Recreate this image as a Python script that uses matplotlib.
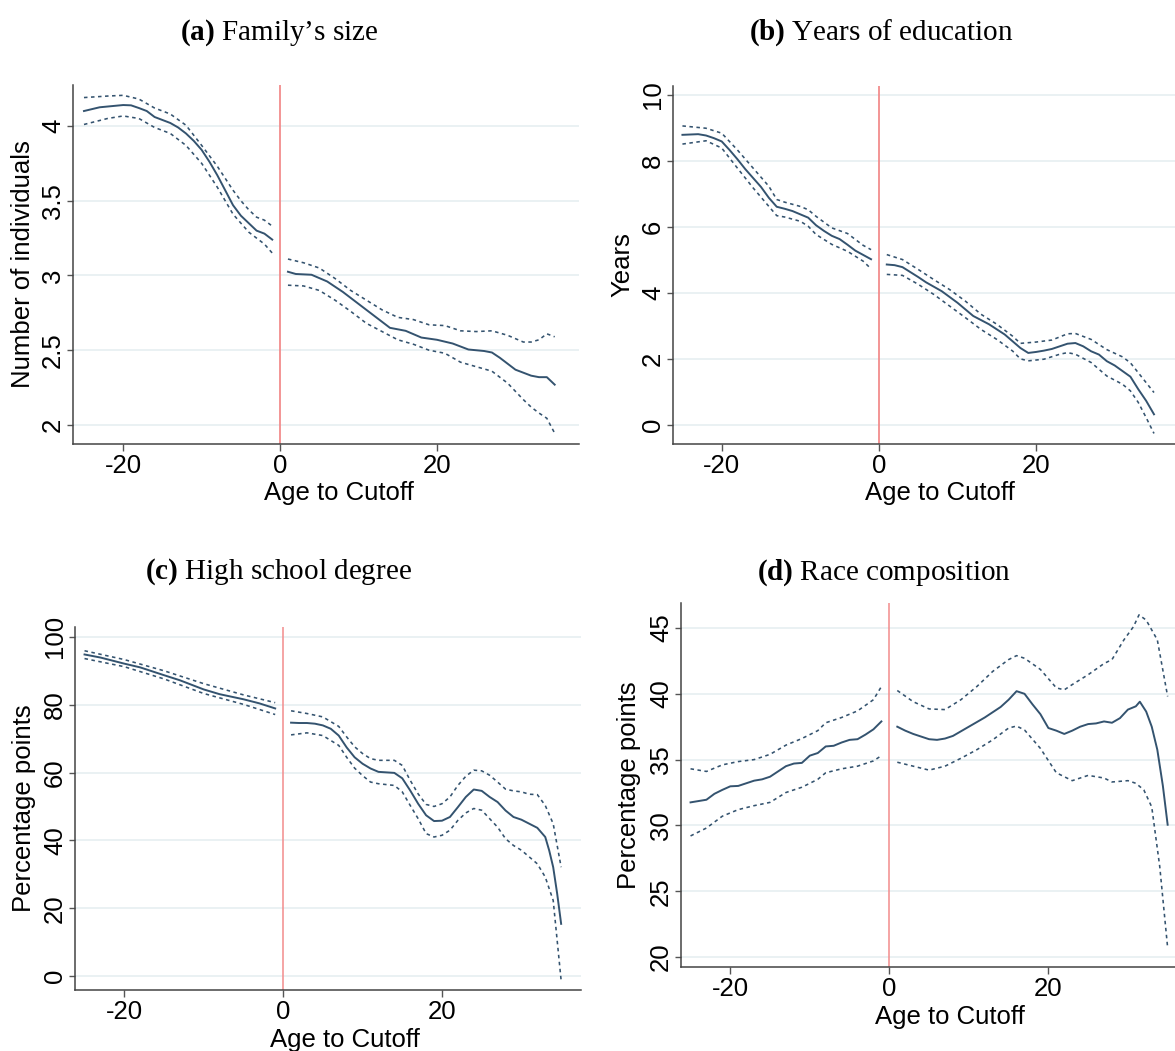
import matplotlib
matplotlib.use("Agg")
import matplotlib.pyplot as plt

# (a) family size
a_lx = [-25, -23, -20, -19, -18, -17, -16, -15, -14, -13, -12, -11, -10, -9, -8, -7, -6, -5, -4, -3, -2, -1]
a_lmid = [4.10, 4.125, 4.14, 4.138, 4.12, 4.10, 4.06, 4.04, 4.02, 3.99, 3.95, 3.90, 3.84, 3.76, 3.67, 3.57,
          3.47, 3.40, 3.35, 3.30, 3.28, 3.24]
a_lx_ci = [-25, -22, -20, -18, -16, -14, -12, -10, -8, -6, -5, -4, -3, -2, -1]
a_lhi = [4.19, 4.20, 4.205, 4.18, 4.12, 4.08, 4.005, 3.87, 3.73, 3.57, 3.50, 3.44, 3.39, 3.37, 3.33]
a_llo = [4.01, 4.05, 4.067, 4.05, 3.99, 3.95, 3.87, 3.75, 3.59, 3.41, 3.35, 3.29, 3.25, 3.21, 3.15]
a_rx = [1, 2, 4, 6, 8, 10, 12, 14, 16, 18, 20, 22, 24, 26, 27, 28, 30, 32, 33, 34, 35]
a_rmid = [3.025, 3.01, 3.005, 2.96, 2.89, 2.81, 2.73, 2.65, 2.63, 2.585, 2.57, 2.545, 2.505, 2.495, 2.485,
          2.45, 2.37, 2.33, 2.32, 2.32, 2.27]
a_rx_ci = [1, 3, 5, 7, 9, 11, 13, 15, 17, 19, 21, 23, 25, 27, 29, 31, 32, 33, 34, 35]
a_rhi = [3.11, 3.085, 3.05, 2.98, 2.90, 2.835, 2.77, 2.72, 2.705, 2.67, 2.665, 2.63, 2.625, 2.63, 2.60,
         2.555, 2.555, 2.57, 2.61, 2.59]
a_rlo = [2.935, 2.93, 2.90, 2.835, 2.76, 2.68, 2.625, 2.57, 2.54, 2.50, 2.48, 2.42, 2.39, 2.36, 2.28,
         2.17, 2.12, 2.08, 2.045, 1.945]

# (b) years of education
b_lx = [-25, -23, -22, -21, -20, -19, -18, -17, -16, -15, -14, -13, -12, -11, -10, -9, -8, -7, -6, -5, -4, -3, -2, -1]
b_lmid = [8.79, 8.81, 8.77, 8.69, 8.59, 8.33, 8.05, 7.75, 7.48, 7.21, 6.88, 6.61, 6.55, 6.48, 6.38, 6.28,
          6.05, 5.88, 5.73, 5.63, 5.46, 5.28, 5.15, 5.02]
b_lx_ci = [-25, -22, -20, -18, -16, -14, -13, -12, -10, -9, -8, -6, -4, -3, -2, -1]
b_lhi = [9.06, 8.99, 8.84, 8.33, 7.78, 7.23, 6.83, 6.75, 6.62, 6.52, 6.32, 5.97, 5.80, 5.62, 5.44, 5.31]
b_llo = [8.51, 8.61, 8.39, 7.78, 7.18, 6.62, 6.34, 6.30, 6.17, 6.02, 5.77, 5.47, 5.26, 5.11, 4.96, 4.73]
b_rx = [1, 2, 3, 4, 5, 6, 8, 10, 12, 14, 16, 18, 19, 20, 21, 22, 24, 25, 26, 27, 28, 29, 30, 31, 32, 33, 34, 35]
b_rmid = [4.86, 4.84, 4.78, 4.63, 4.48, 4.32, 4.05, 3.70, 3.30, 3.05, 2.74, 2.33, 2.18, 2.21, 2.25, 2.30,
          2.46, 2.48, 2.38, 2.23, 2.13, 1.93, 1.80, 1.63, 1.46, 1.08, 0.73, 0.32]
b_rx_hi = [1, 3, 5, 7, 9, 11, 13, 15, 17, 18, 20, 22, 24, 25, 27, 29, 31, 32, 33, 34, 35]
b_rhi = [5.16, 5.01, 4.71, 4.40, 4.10, 3.75, 3.35, 3.05, 2.69, 2.47, 2.51, 2.57, 2.76, 2.77, 2.59, 2.28,
         2.06, 1.88, 1.58, 1.28, 0.98]
b_rx_lo = [1, 3, 5, 7, 9, 11, 13, 15, 17, 18, 19, 21, 23, 24, 25, 27, 29, 31, 32, 33, 34, 35]
b_rlo = [4.56, 4.53, 4.26, 3.95, 3.60, 3.25, 2.89, 2.59, 2.24, 2.00, 1.94, 1.99, 2.14, 2.19, 2.14, 1.89,
         1.48, 1.23, 1.03, 0.68, 0.22, -0.26]

# (c) high school degree
c_lx = [-25, -23, -20, -18, -15, -13, -10, -8, -5, -3, -1]
c_lmid = [94.8, 93.9, 92.1, 91.0, 88.7, 87.2, 84.5, 83.1, 81.6, 80.4, 78.9]
c_lx_ci = [-25, -20, -15, -10, -5, -1]
c_lhi = [95.9, 93.3, 90.0, 86.2, 82.9, 80.6]
c_llo = [93.6, 91.2, 87.6, 83.3, 80.1, 77.1]
c_rx = [1, 2, 3, 4, 5, 6, 7, 8, 9, 10, 11, 12, 14, 15, 16, 17, 18, 19, 20, 21, 22, 23, 24, 25, 26, 27, 28,
        29, 30, 31, 32, 33, 33.5, 34, 34.5, 35]
c_rmid = [74.7, 74.6, 74.6, 74.4, 73.9, 72.9, 70.9, 67.4, 64.5, 62.6, 61.2, 60.2, 59.9, 58.3, 54.7, 50.8,
          47.4, 45.7, 45.8, 46.9, 49.8, 52.8, 55.0, 54.6, 52.8, 51.3, 48.8, 46.9, 46.1, 44.9, 43.7, 41.0,
          37.0, 32.1, 24.3, 15.4]
c_rx_ci = [1, 3, 5, 7, 8, 9, 10, 11, 12, 14, 15, 16, 17, 18, 19, 20, 21, 22, 23, 24, 25, 26, 27, 28, 29,
           30, 31, 32, 33, 34, 35]
c_rhi = [78.2, 77.4, 76.4, 73.6, 70.5, 67.6, 65.6, 64.1, 63.6, 63.6, 62.1, 57.7, 53.7, 50.6, 50.0, 50.8,
         52.8, 56.2, 58.9, 60.7, 60.5, 59.2, 57.2, 55.1, 54.6, 54.3, 53.6, 53.5, 50.3, 44.9, 32.1]
c_rlo = [71.1, 71.7, 70.9, 68.0, 64.5, 61.3, 59.1, 57.2, 56.7, 56.2, 54.3, 50.3, 46.4, 42.0, 41.0, 41.5,
         43.0, 45.9, 48.1, 49.4, 48.9, 46.4, 43.9, 40.5, 38.5, 37.1, 35.1, 33.1, 29.2, 22.3, -1.3]

# (d) race composition
d_lx = [-25, -23, -22, -21, -20, -19, -18, -17, -16, -15, -14, -13, -12, -11, -10, -9, -8, -7, -6, -5, -4, -3, -2, -1]
d_lmid = [31.75, 31.95, 32.4, 32.7, 32.97, 33.0, 33.2, 33.4, 33.5, 33.7, 34.1, 34.5, 34.7, 34.75, 35.3,
          35.5, 36.0, 36.05, 36.3, 36.5, 36.55, 36.9, 37.3, 37.9]
d_lx_ci = [-25, -23, -21, -19, -17, -15, -13, -11, -9, -8, -6, -4, -2, -1]
d_lhi = [34.3, 34.1, 34.6, 34.85, 35.0, 35.4, 36.1, 36.6, 37.2, 37.8, 38.2, 38.7, 39.55, 40.55]
d_llo = [29.2, 29.8, 30.7, 31.2, 31.5, 31.75, 32.5, 32.9, 33.5, 34.0, 34.3, 34.5, 34.9, 35.3]
d_rx = [1, 2, 3, 4, 5, 6, 7, 8, 9, 10, 12, 14, 15, 16, 17, 18, 19, 20, 21, 22, 23, 24, 25, 26, 27, 28,
        29, 30, 31, 31.5, 32.3, 33, 33.7, 34.4, 35]
d_rmid = [37.5, 37.2, 36.95, 36.75, 36.55, 36.5, 36.6, 36.8, 37.15, 37.5, 38.2, 39.0, 39.55, 40.2, 40.0,
          39.2, 38.45, 37.4, 37.2, 36.95, 37.2, 37.5, 37.7, 37.75, 37.9, 37.8, 38.15, 38.8, 39.05, 39.4,
          38.65, 37.5, 35.75, 33.0, 30.05]
d_rx_hi = [1, 3, 5, 7, 9, 11, 13, 15, 16, 17, 19, 21, 22, 23, 25, 27, 28, 29.5, 30.7, 31.4, 32.3, 33.7, 35]
d_rhi = [40.25, 39.4, 38.85, 38.8, 39.55, 40.55, 41.7, 42.6, 42.9, 42.7, 41.85, 40.45, 40.3, 40.7, 41.45,
         42.3, 42.6, 44.1, 45.1, 46.0, 45.6, 44.1, 39.8]
d_rx_lo = [1, 3, 5, 7, 9, 11, 13, 15, 16, 17, 19, 21, 23, 25, 27, 28, 30, 31, 32, 33, 34, 35]
d_rlo = [34.8, 34.5, 34.2, 34.5, 35.1, 35.75, 36.5, 37.4, 37.55, 37.25, 35.85, 34.0, 33.4, 33.8, 33.6,
         33.3, 33.4, 33.2, 32.7, 31.4, 26.9, 20.7]

NAVY = "#34536f"
RED = "#f28c8c"
GRID = "#e4eef0"
SPINE = "#444444"
FS = 18.5
W, H = 1175, 1051

plt.rcParams["font.family"] = ["Liberation Sans", "DejaVu Sans"]
plt.rcParams["mathtext.fontset"] = "custom"
plt.rcParams["mathtext.rm"] = "Liberation Serif"
plt.rcParams["mathtext.bf"] = "Liberation Serif:bold"

fig = plt.figure(figsize=(W / 100, H / 100), dpi=100)


def px_axes(left, top, right, bottom):
    return fig.add_axes([left / W, 1 - bottom / H, (right - left) / W, (bottom - top) / H])


def draw_panel(ax, left, right, xlim, ylim, yticks, ylabels, ylabel, ylab_x, xlab_pos, red_lw=1.3):
    (lx, lmid, lx_hi, lhi, lx_lo, llo) = left
    (rx, rmid, rx_hi, rhi, rx_lo, rlo) = right
    ax.set_xlim(*xlim)
    ax.set_ylim(*ylim)
    ax.set_xticks([-20, 0, 20])
    ax.set_xticklabels(["-20", "0", "20"])
    ax.set_yticks(yticks)
    ax.set_yticklabels(ylabels)
    for y in yticks:
        ax.axhline(y, color=GRID, lw=1.1, zorder=0)
    ax.axvline(0, color=RED, lw=red_lw, zorder=1)
    dash = (0, (2.2, 2.2))
    for x, m in ((lx, lmid), (rx, rmid)):
        ax.plot(x, m, color=NAVY, lw=1.4, zorder=3)
    for x, v in ((lx_hi, lhi), (lx_lo, llo), (rx_hi, rhi), (rx_lo, rlo)):
        ax.plot(x, v, color=NAVY, lw=1.15, ls=dash, zorder=3)

    for side in ("top", "right"):
        ax.spines[side].set_visible(False)
    for side in ("left", "bottom"):
        ax.spines[side].set_color(SPINE)
        ax.spines[side].set_linewidth(1.1)
    ax.tick_params(axis="x", length=5, width=1, color="#555555", pad=2.5, labelsize=FS)
    ax.tick_params(axis="y", length=4.5, width=1, color="#555555", pad=1.2, labelsize=FS,
                   labelrotation=90)
    for lab in ax.get_yticklabels():
        lab.set_verticalalignment("center")

    ax.set_xlabel("Age to Cutoff", fontsize=FS, va="center")
    ax.xaxis.set_label_coords(*xlab_pos)
    ax.set_ylabel(ylabel, fontsize=FS, va="center")
    ax.yaxis.set_label_coords(ylab_x, 0.5)


ax_a = px_axes(73, 85, 579, 444)
draw_panel(ax_a, (a_lx, a_lmid, a_lx_ci, a_lhi, a_lx_ci, a_llo),
           (a_rx, a_rmid, a_rx_ci, a_rhi, a_rx_ci, a_rlo),
           (-26.4, 38.1), (1.873, 4.274), [2, 2.5, 3, 3.5, 4], ["2", "2.5", "3", "3.5", "4"],
           "Number of individuals", -0.099, (0.526, -0.137))

ax_b = px_axes(673, 86, 1176, 444)
draw_panel(ax_b, (b_lx, b_lmid, b_lx_ci, b_lhi, b_lx_ci, b_llo),
           (b_rx, b_rmid, b_rx_hi, b_rhi, b_rx_lo, b_rlo),
           (-26.2, 37.8), (-0.58, 10.27), [0, 2, 4, 6, 8, 10], ["0", "2", "4", "6", "8", "10"],
           "Years", -0.10, (0.53, -0.137))

ax_c = px_axes(75, 627, 581, 990)
draw_panel(ax_c, (c_lx, c_lmid, c_lx_ci, c_lhi, c_lx_ci, c_llo),
           (c_rx, c_rmid, c_rx_ci, c_rhi, c_rx_ci, c_rlo),
           (-26.2, 37.5), (-4.1, 102.9), [0, 20, 40, 60, 80, 100],
           ["0", "20", "40", "60", "80", "100"],
           "Percentage points", -0.101, (0.534, -0.138), red_lw=1.1)

ax_d = px_axes(681, 603, 1176, 967)
draw_panel(ax_d, (d_lx, d_lmid, d_lx_ci, d_lhi, d_lx_ci, d_llo),
           (d_rx, d_rmid, d_rx_hi, d_rhi, d_rx_lo, d_rlo),
           (-26.2, 36.05), (19.24, 46.9), [20, 25, 30, 35, 40, 45],
           ["20", "25", "30", "35", "40", "45"],
           "Percentage points", -0.105, (0.543, -0.137), red_lw=1.1)

# panel captions
titles = [
    (180, 39.5, r"$\mathbf{(a)}$ Family’s size"),
    (749, 39.5, r"$\mathbf{(b)}$ Years of education"),
    (145, 579, r"$\mathbf{(c)}$ High school degree"),
    (757, 580, r"$\mathbf{(d)}$ Race composition"),
]
for x, y, t in titles:
    fig.text(x / W, 1 - y / H, t, fontsize=21, family="Liberation Serif",
             ha="left", va="baseline")

fig.savefig("out.png", dpi=100)
